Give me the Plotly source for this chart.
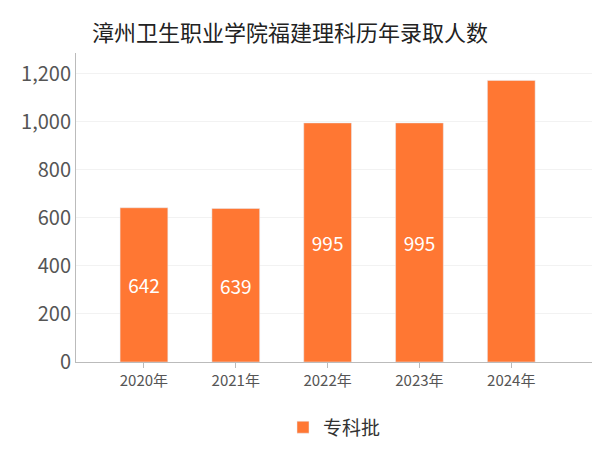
import plotly.graph_objects as go

years = ["2020年", "2021年", "2022年", "2023年", "2024年"]
counts = [642, 639, 995, 995, 1172]
labels = ["642", "639", "995", "995", ""]

fig = go.Figure(go.Bar(
    x=years, y=counts, name="专科批",
    marker=dict(color="#ff7733"),
    text=labels, textposition="inside", insidetextanchor="middle",
    textfont=dict(color="white", size=19),
    showlegend=True,
))

fig.update_layout(
    width=600, height=450,
    font=dict(family="Noto Sans CJK SC", color="#555"),
    title=dict(text="漳州卫生职业学院福建理科历年录取人数", x=0.14, xanchor="left", y=0.96,
               font=dict(size=22, color="#222")),
    plot_bgcolor="white", paper_bgcolor="white",
    margin=dict(l=68, r=15, t=45, b=75),
    bargap=0.48,
    xaxis=dict(range=[-0.74, 4.89], showline=True, linecolor="#bbb",
               tickfont=dict(size=15, color="#555"), ticks="outside", tickcolor="#bbb"),
    yaxis=dict(range=[0, 1286], dtick=200, tickformat=",", showline=True, linecolor="#bbb",
               gridcolor="#f2f2f2", tickfont=dict(size=20, color="#555"), zeroline=False),
    legend=dict(orientation="h", x=0.5, xanchor="center", y=-0.15, yanchor="top",
                font=dict(size=19, color="#333")),
)

fig.write_html("out.html")
